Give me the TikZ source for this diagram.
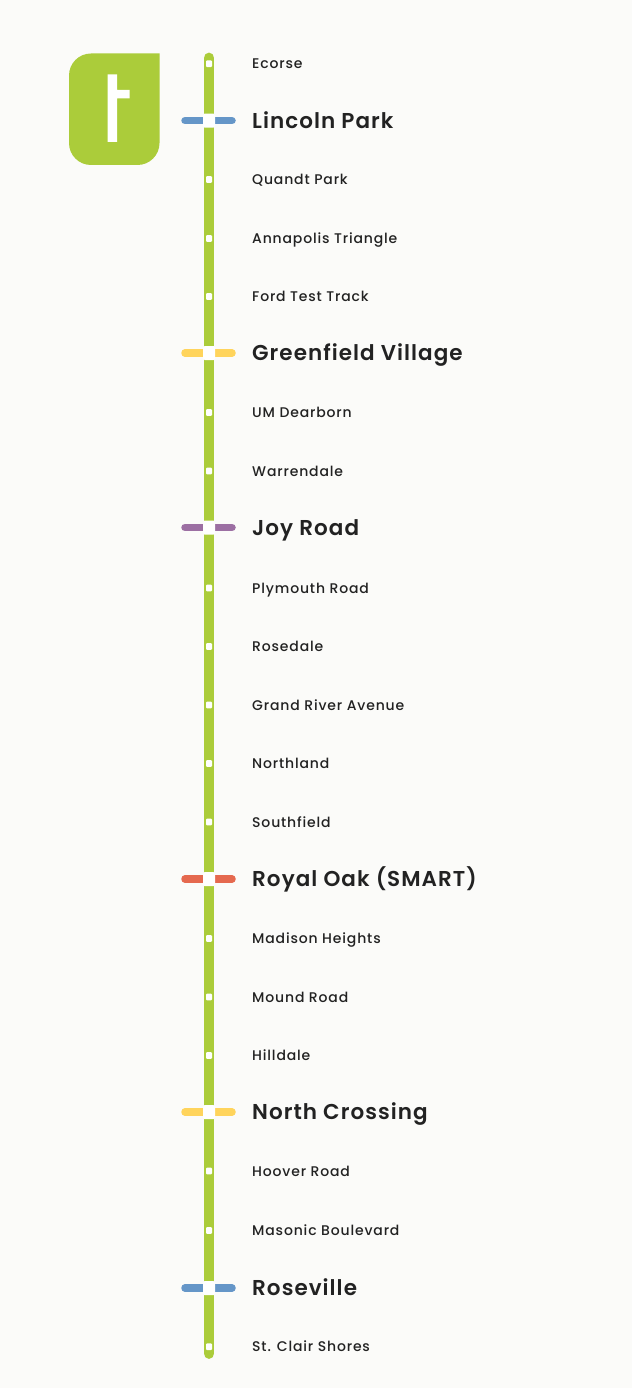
\documentclass[tikz,border=0pt]{standalone}
\usepackage{fontspec}
\setmainfont{Poppins}
\newfontfamily\smallf[LetterSpace=6]{Poppins Medium}
\newfontfamily\bigf[LetterSpace=4.8]{Poppins SemiBold}
\definecolor{bg}{HTML}{FBFBF9}
\definecolor{lime}{HTML}{ABCC3A}
\definecolor{cblue}{HTML}{6596C8}
\definecolor{cyellow}{HTML}{FFD45C}
\definecolor{cpurple}{HTML}{9C6FA3}
\definecolor{cred}{HTML}{E5694F}
\definecolor{ink}{HTML}{222222}
\tikzset{
  minor/.style={anchor=base west,inner sep=0pt,text=ink,font=\smallf\fontsize{14}{15}\selectfont},
  major/.style={anchor=base west,inner sep=0pt,text=ink,font=\bigf\fontsize{21.5}{23}\selectfont},
  stopmark/.style={fill=white,rounded corners=1pt,minimum width=6pt,minimum height=6.8pt,inner sep=0pt,draw=none},
  hubmark/.style={fill=white,rounded corners=1.5pt,minimum width=12pt,minimum height=14pt,inner sep=0pt,draw=none},
  tick/.style={line width=7.5pt,line cap=round,#1},
  route/.style={line width=10.8pt,line cap=round,lime}
}
\begin{document}
\begin{tikzpicture}[x=1pt,y=-1pt]
\useasboundingbox (0,0) rectangle (632,1388);
\fill[bg] (0,0) rectangle (632,1388);
% logo
\fill[lime] (91,53.5) -- (159.5,53.5) -- (159.5,143) arc[start angle=0,end angle=90,radius=22] -- (91,165) arc[start angle=90,end angle=180,radius=22] -- (69,75.5) arc[start angle=180,end angle=270,radius=22] -- cycle;
\fill[white] (107.7,74.5) -- (117,74.5) -- (117,90) -- (129.5,90) -- (129.5,98.5) -- (117,98.5) -- (117,142) -- (107.7,142) -- cycle;
% route
\coordinate (top) at (209,58);
\coordinate (bottom) at (209,1353.5);
\draw[route] (top) -- (bottom);
% hub ticks
\foreach \y/\c in {120.7/cblue,353/cyellow,527.5/cpurple,879/cred,1112/cyellow,1288/cblue}{
  \coordinate (l) at (185,\y); \coordinate (li) at (206,\y);
  \coordinate (r) at (212,\y); \coordinate (ri) at (232,\y);
  \draw[tick=\c] (l) -- (li);
  \draw[tick=\c] (r) -- (ri);
}
% minor stops
\foreach \n/\y/\t in {a/63.8/Ecorse,c/179.5/Quandt Park,d/238.5/Annapolis Triangle,e/296.5/Ford Test Track,g/412.5/UM Dearborn,h/471/Warrendale,j/588/Plymouth Road,k/646.5/Rosedale,l/705/Grand River Avenue,m/763.5/Northland,n/822/Southfield,p/938.5/Madison Heights,q/997/Mound Road,r/1055.5/Hilldale,t/1171/Hoover Road,u/1230.5/Masonic Boulevard,w/1346.8/St. Clair Shores}{
  \node[stopmark] (s\n) at (209,\y) {};
  \node[minor] (t\n) at (252,\y+5.1) {\t};
}
% hubs
\foreach \n/\y/\t in {b/120.7/Lincoln Park,f/353/Greenfield Village,i/527.5/Joy Road,o/879/Royal Oak (SMART),s/1112/North Crossing,v/1288/Roseville}{
  \node[hubmark] (s\n) at (209,\y) {};
  \node[major] (t\n) at (252,\y+7.5) {\t};
}
\end{tikzpicture}
\end{document}
